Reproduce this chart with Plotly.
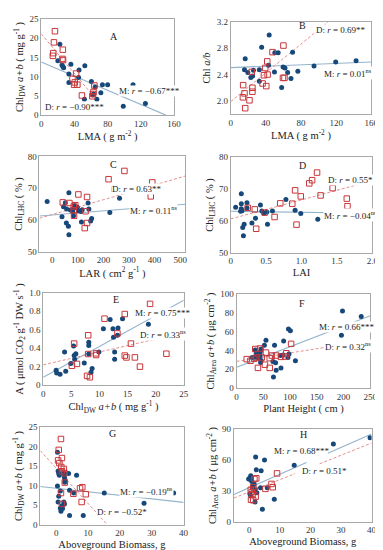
import plotly.graph_objects as go

W, H = 383, 550
FONT = "Liberation Serif"
BLUE = "#17487a"
RED = "#c8363a"
BLUE_LINE = "#93b4cd"
RED_LINE = "#e58f8f"
FRAME = "#a8a8a8"

# ---------------- Panel A ----------------
a_m_x = [22.4, 20, 26, 25, 35.7, 52.5, 45.5, 33.3, 45, 33.3, 60.4, 65, 73.7, 80, 110.6, 71.8, 67, 52, 98.8, 125.5, 63, 27, 62]
a_m_y = [18.4, 14.1, 12.6, 13.0, 13.2, 12.8, 11.7, 10.7, 9.8, 8.5, 8.7, 7.3, 7.9, 7.9, 7.9, 5.8, 4.1, 4.1, 2.3, 3.0, 5.5, 12.3, 5.2]
a_d_x = [16.5, 15.3, 14.5, 14, 26, 25.5, 26.3, 42, 37.6, 40.4, 39.6, 43.5, 49, 64, 63, 62.4, 61.6]
a_d_y = [21.8, 18.9, 16.1, 15.4, 17, 14.6, 14.3, 10.8, 9.4, 8.5, 7.9, 7.9, 5.1, 7.7, 6.0, 5.5, 4.9]
a_m_fit = ([0, 150], [13.8, 0])
a_d_fit = ([0, 63], [21.1, 4.9])

# ---------------- Panel B ----------------
b_m_x = [43.8, 35.2, 16.5, 50.2, 54, 70.4, 43, 59.6, 61.8, 94.8, 119.5, 142.7, 15.7, 32.6, 19.5, 49.8, 64.8, 76.4, 22.9, 25, 32.6, 58, 68.6, 25.9]
b_m_y = [3.0, 2.815, 2.64, 2.73, 2.73, 2.74, 2.54, 2.515, 2.5, 2.53, 2.59, 2.61, 2.475, 2.475, 2.43, 2.44, 2.43, 2.45, 2.355, 2.38, 2.3, 2.205, 2.34, 2.465]
b_d_x = [60, 47.6, 41.6, 39.3, 42, 37.8, 36.3, 40.5, 24, 24.7, 24.7, 14.2, 15.7, 13.9, 21.4, 16.5, 59.5, 61.2]
b_d_y = [2.84, 2.74, 2.6, 2.5, 2.4, 2.39, 2.265, 2.225, 2.44, 2.2, 2.14, 2.24, 2.115, 2.055, 2.01, 1.89, 2.35, 2.35]
b_m_fit = ([0, 160], [2.505, 2.59])
b_d_fit = ([0, 111], [1.99, 3.2])

# ---------------- Panel C ----------------
c_m_x = [-20, 65, 51, 44, 56, 38, 71, 80, 85, 98, 102, 112, 117, 140, 143, 114, 154, 150, 55, 63, 65, 83, 263, 225, 88]
c_m_y = [65.8, 68.5, 65.4, 64.1, 63.4, 61, 63.1, 62.6, 63.7, 64, 62.9, 62.6, 63.2, 65.3, 63.4, 59.3, 60.4, 59.6, 59, 58, 55.3, 61.3, 66.8, 62.3, 64.4]
c_d_x = [282, 220, 244, 391, 416, 102, 136, 41, 67, 84, 84, 130, 136, 127, 385, 85, 90]
c_d_y = [75.4, 72.8, 69.6, 71.8, 70.3, 68, 67.2, 65.5, 65.3, 64.2, 63, 62.7, 59, 57.4, 67.4, 61.3, 64.6]
c_m_fit = ([-50, 520], [61.2, 64.9])
c_d_fit = ([-50, 520], [60.5, 73.8])

# ---------------- Panel D ----------------
d_m_x = [0.15, 0.07, 0.15, 0.23, 0.15, 0.16, 0.14, 0.19, 0.17, 0.18, 0.3, 0.35, 0.42, 0.44, 0.51, 0.52, 0.59, 0.78, 0.91, 0.99, 1.23, 0.23, 0.47]
d_m_y = [68.5, 64.3, 65.4, 65.7, 63.8, 63.2, 63.0, 58.9, 57.9, 55.3, 59.3, 60.8, 65, 63.1, 62.8, 58.9, 63.1, 66.7, 63.3, 62.3, 60.5, 64, 62.4]
d_d_x = [1.22, 1.15, 1.11, 0.91, 0.99, 1.27, 1.44, 0.87, 0.7, 0.62, 0.93, 0.36, 0.34, 0.24, 0.48, 1.64, 1.65]
d_d_y = [75.2, 72.8, 71.8, 69.6, 67.7, 68, 70.3, 65.4, 65.5, 61.2, 58.8, 57.5, 63.6, 64.1, 62.6, 67, 64.6]
d_m_fit = ([0, 2], [63.0, 62.4])
d_d_fit = ([0, 2], [60.6, 72.6])

# ---------------- Panel E ----------------
e_m_x = [2.3, 2.4, 3.0, 4.0, 3.8, 4.9, 5.5, 5.6, 5.8, 5.4, 7.3, 8.1, 8.1, 8.1, 8.7, 8.5, 9.9, 10.7, 11.9, 12.4, 12.5, 12.7, 12.7, 13.3, 13.2, 14.1, 18.7]
e_m_y = [0.16, 0.13, 0.117, 0.15, 0.36, 0.234, 0.32, 0.28, 0.34, 0.425, 0.24, 0.465, 0.43, 0.337, 0.18, 0.14, 0.36, 0.61, 0.71, 0.61, 0.518, 0.36, 0.28, 0.62, 0.54, 0.72, 0.66]
e_d_x = [19, 14.5, 10.9, 8, 5.5, 13.2, 15.6, 14.5, 14.8, 16.3, 17.2, 21.9, 5.1, 6.0, 7.8, 8.3, 8.0, 9.4, 9.4]
e_d_y = [0.88, 0.77, 0.72, 0.54, 0.45, 0.56, 0.45, 0.32, 0.3, 0.3, 0.2, 0.34, 0.21, 0.23, 0.1, 0.085, 0.337, 0.326, 0.344]
e_m_fit = ([0, 25], [0.085, 0.92])
e_d_fit = ([0, 25], [0.22, 0.567])

# ---------------- Panel F ----------------
f_m_x = [198, 233, 196, 97, 100.6, 55, 88, 52, 71, 46, 35, 44.5, 37, 44, 34, 40, 43, 46, 45, 68, 73, 82, 87, 98, 96, 110, 83, 74, 69, 29]
f_m_y = [81.7, 75.9, 55.9, 62.7, 60.7, 50.7, 50, 45.5, 45.5, 41.4, 40.3, 38.6, 36.9, 34.5, 32.8, 32.4, 31, 29.3, 27.2, 28.3, 26.9, 34.5, 35.2, 36.2, 32.4, 29, 21.4, 19, 11.7, 32.4]
f_d_x = [102, 19, 26, 33, 35, 44, 40, 55, 53, 62, 66, 74, 62, 47, 83, 93, 91, 37]
f_d_y = [46.9, 30.7, 29, 31, 41.4, 42, 21.4, 37.6, 24.8, 21.4, 34.5, 34.5, 31.7, 32.4, 33.1, 36.9, 33.4, 32.4]
f_m_fit = ([0, 250], [22, 76.6])
f_d_fit = ([0, 250], [28.3, 50.7])

# ---------------- Panel G ----------------
g_m_x = [0.4, 0.6, 0.8, 1.0, 2.4, 3.9, 6.4, 2.6, 2.7, 2.7, 0.4, 1.3, 4.2, 5.5, 15.1, 36.9, 0.8, 0.6, 2.4, 2.6, 1.8, 1.3, 2.0, 1.5, 4.2, 8.5, 27.6]
g_m_y = [18.6, 13.8, 13.1, 12.7, 13.2, 13.1, 12.7, 12.2, 11.6, 10.9, 9.9, 8.6, 8.8, 8.1, 8.1, 8.1, 7.3, 5.8, 5.8, 5.3, 4.8, 4.2, 4.1, 3.4, 2.3, 2.3, 5.5]
g_d_x = [1.5, 0.8, 0.6, 1.8, 1.0, 1.6, 2.4, 1.8, 2.6, 2.7, 1.5, 7.5, 8.2, 9.3, 8.0, 5.4, 1.8]
g_d_y = [22, 19.2, 16.5, 17.1, 15.8, 14.8, 14.3, 13.7, 13.2, 10.8, 8.1, 9.3, 9.6, 7.8, 5.8, 7.9, 5.3]
g_m_fit = ([-5, 40], [9.8, 5.7])
g_d_fit = ([-5, 16], [19.0, 0])

# ---------------- Panel H ----------------
h_m_x = [39.5, 27.5, 14.7, 2.1, 5.0, 2.3, 3.9, 0.5, 0.2, 0.5, 0.85, -0.2, 1.6, 3.7, 5.9, 1.9, 2.5, 0.2, 0.5, 1.9, 8.2, 4.3, 1.1]
h_m_y = [81.8, 75.7, 55, 62.9, 60, 50.5, 49.5, 44.7, 42.5, 40.9, 39, 41.5, 36.7, 32.9, 32.9, 31, 28.1, 27.2, 24.9, 19.2, 21.7, 12.1, 34.2]
h_d_x = [9.1, 2.3, 1.7, 7.3, 7.7, 5.3, 1.3, 0.5, 0.85, 1.1, 2.1, 0.6, 1.3, 1.7]
h_d_y = [47, 42.2, 41.5, 36.7, 33.5, 31.9, 33.5, 31, 28.8, 26.8, 24.3, 21.4, 20.8, 31]
h_m_fit = ([-5, 40], [26.5, 85.5])
h_d_fit = ([-5, 40], [23.0, 76.6])
h_m_gap = [18.7, 25.7]
h_d_gap = [15.0, 23.0]

# tick values / labels
a_xt = [0, 40, 80, 120, 160]; a_yt = [0, 5, 10, 15, 20, 25]
b_xt = [0, 40, 80, 120, 160]; b_yt = [2.0, 2.4, 2.8, 3.2]; b_ytt = ["2.0", "2.4", "2.8", "3.2"]
c_xt = [0, 100, 200, 300, 400, 500]; c_yt = [50, 60, 70, 80]
d_xt = [0, 0.5, 1.0, 1.5, 2.0]; d_xtt = ["0", "0.5", "1.0", "1.5", "2.0"]; d_yt = [50, 60, 70, 80]
e_xt = [0, 5, 10, 15, 20, 25]; e_yt = [0, 0.2, 0.4, 0.6, 0.8, 1.0]; e_ytt = ["0", "0.2", "0.4", "0.6", "0.8", "1.0"]
f_xt = [0, 50, 100, 150, 200, 250]; f_yt = [0, 20, 40, 60, 80, 100]
g_xt = [0, 10, 20, 30, 40]; g_yt = [0, 5, 10, 15, 20, 25]
h_xt = [0, 10, 20, 30, 40]; h_yt = [0, 30, 60, 90]

chl_dw = "Chl<sub>DW</sub> <i>a+b</i> ( mg g<sup>-1</sup> )"
chl_area = "Chl<sub>Area</sub> <i>a+b</i> ( μg cm<sup>-2</sup> )"
chl_lhc = "Chl<sub>LHC</sub> ( % )"

panels = [
    dict(mx=a_m_x, my=a_m_y, dx=a_d_x, dy=a_d_y, mfit=a_m_fit, dfit=a_d_fit,
         xr=[0, 160], yr=[0, 25], xt=a_xt, yt=a_yt, dom=(32, 168, 6, 104),
         xtitle="LMA ( g m<sup>-2</sup> )", ytitle=chl_dw,
         ann=[("A", 88, 20.3, False), ("M: <i>r</i> = −0.67***", 130, 6.2, True),
              ("D: <i>r</i> = −0.90***", 40, 2.0, True)]),
    dict(mx=b_m_x, my=b_m_y, dx=b_d_x, dy=b_d_y, mfit=b_m_fit, dfit=b_d_fit,
         xr=[0, 160], yr=[1.8, 3.2], xt=b_xt, yt=b_yt, ytt=b_ytt, dom=(226, 370, 9, 103),
         xtitle="LMA ( g m<sup>-2</sup> )", ytitle="Chl <i>a/b</i>",
         ann=[("B", 82, 3.14, False), ("D: <i>r</i> = 0.69**", 126, 3.07, True),
              ("M: <i>r</i> = 0.01<sup>ns</sup>", 134, 2.42, True)]),
    dict(mx=c_m_x, my=c_m_y, dx=c_d_x, dy=c_d_y, mfit=c_m_fit, dfit=c_d_fit,
         xr=[-50, 520], yr=[50, 80], xt=c_xt, yt=c_yt, dom=(30.2, 179.5, 146, 243),
         xtitle="LAR ( cm<sup>2</sup> g<sup>-1</sup> )", ytitle=chl_lhc,
         ann=[("C", 240, 77.5, False), ("D: <i>r</i> = 0.63**", 330, 69.7, True),
              ("M: <i>r</i> = 0.11<sup>ns</sup>", 395, 63.2, True)]),
    dict(mx=d_m_x, my=d_m_y, dx=d_d_x, dy=d_d_y, mfit=d_m_fit, dfit=d_d_fit,
         xr=[0, 2], yr=[50, 80], xt=d_xt, xtt=d_xtt, yt=d_yt, dom=(226, 371, 147, 244),
         xtitle="LAI", ytitle=chl_lhc,
         ann=[("D", 1.01, 77.4, False), ("D: <i>r</i> = 0.55*", 1.69, 73, True),
              ("M: <i>r</i> = −0.04<sup>ns</sup>", 1.69, 61.9, True)]),
    dict(mx=e_m_x, my=e_m_y, dx=e_d_x, dy=e_d_y, mfit=e_m_fit, dfit=e_d_fit,
         xr=[0, 25], yr=[0, 1], xt=e_xt, yt=e_yt, ytt=e_ytt, dom=(34, 178, 285, 379),
         xtitle=chl_dw, ytitle="A ( μmol CO<sub>2</sub> g<sup>-1</sup> DW s<sup>-1</sup> )",
         ann=[("E", 12.9, 0.93, False), ("M: <i>r</i> = 0.75***", 21.3, 0.78, True),
              ("D: <i>r</i> = 0.33<sup>ns</sup>", 21.3, 0.557, True)]),
    dict(mx=f_m_x, my=f_m_y, dx=f_d_x, dy=f_d_y, mfit=f_m_fit, dfit=f_d_fit,
         xr=[0, 250], yr=[0, 100], xt=f_xt, yt=f_yt, dom=(232, 369, 286, 382),
         xtitle="Plant Height ( cm )", ytitle=chl_area,
         ann=[("F", 123, 90, False), ("M: <i>r</i> = 0.66***", 206, 65, True),
              ("D: <i>r</i> = 0.32<sup>ns</sup>", 208, 44.8, True)]),
    dict(mx=g_m_x, my=g_m_y, dx=g_d_x, dy=g_d_y, mfit=g_m_fit, dfit=g_d_fit,
         xr=[-5, 40], yr=[0, 25], xt=g_xt, yt=g_yt, dom=(31, 177.7, 422, 521),
         xtitle="Aboveground Biomass, g", ytitle=chl_dw,
         ann=[("G", 17.7, 23.3, False), ("M: <i>r</i> = −0.19<sup>ns</sup>", 28.4, 8.6, True),
              ("D: <i>r</i> = −0.52*", 20.8, 3.3, True)]),
    dict(mx=h_m_x, my=h_m_y, dx=h_d_x, dy=h_d_y, mfit=h_m_fit, dfit=h_d_fit,
         mgap=h_m_gap, dgap=h_d_gap,
         xr=[-5, 40], yr=[0, 90], xt=h_xt, yt=h_yt, dom=(229.3, 370.3, 424, 518),
         xtitle="Aboveground Biomass, g", ytitle=chl_area,
         ann=[("H", 17.7, 84.6, False), ("M: <i>r</i> = 0.68***", 17.2, 68.6, False),
              ("D: <i>r</i> = 0.51*", 24.6, 49.4, False)]),
]


def fit_xy(fit, gap=None):
    (x0, x1), (y0, y1) = fit
    f = lambda x: y0 + (y1 - y0) * (x - x0) / (x1 - x0)
    xs = [x0, gap[0], None, gap[1], x1] if gap else [x0, x1]
    ys = [None if x is None else f(x) for x in xs]
    return xs, ys


fig = go.Figure()
layout = dict(width=W, height=H, margin=dict(l=0, r=0, t=0, b=0),
              paper_bgcolor="white", plot_bgcolor="white", showlegend=False,
              font=dict(family=FONT, color="#222"), annotations=[])

for i, p in enumerate(panels, start=1):
    sx = "" if i == 1 else str(i)
    xa, ya = "x" + sx, "y" + sx
    l, r, t, b = p["dom"]
    mx, my = fit_xy(p["mfit"], p.get("mgap"))
    dx, dy = fit_xy(p["dfit"], p.get("dgap"))
    fig.add_trace(go.Scatter(x=mx, y=my, mode="lines", xaxis=xa, yaxis=ya,
                             line=dict(color=BLUE_LINE, width=1.1), hoverinfo="skip"))
    fig.add_trace(go.Scatter(x=dx, y=dy, mode="lines", xaxis=xa, yaxis=ya,
                             line=dict(color=RED_LINE, width=1, dash="3px,2px"), hoverinfo="skip"))
    fig.add_trace(go.Scatter(x=p["mx"], y=p["my"], mode="markers", xaxis=xa, yaxis=ya,
                             marker=dict(symbol="circle", size=5, color=BLUE,
                                         line=dict(width=0))))
    fig.add_trace(go.Scatter(x=p["dx"], y=p["dy"], mode="markers", xaxis=xa, yaxis=ya,
                             marker=dict(symbol="square-open", size=5.5, color=RED,
                                         line=dict(width=1, color=RED))))
    common = dict(showline=True, mirror=True, linecolor=FRAME, linewidth=1,
                  showgrid=False, zeroline=False, ticks="",
                  tickfont=dict(family=FONT, size=9, color="#333"))
    xax = dict(common, domain=[l / W, r / W], anchor=ya, range=p["xr"],
               tickmode="array", tickvals=p["xt"],
               ticktext=p.get("xtt", [str(v) for v in p["xt"]]),
               title=dict(text=p["xtitle"], standoff=3,
                          font=dict(family=FONT, size=10.5, color="#222")))
    yax = dict(common, domain=[1 - b / H, 1 - t / H], anchor=xa, range=p["yr"],
               tickmode="array", tickvals=p["yt"],
               ticktext=p.get("ytt", [str(v) for v in p["yt"]]),
               title=dict(text=p["ytitle"], standoff=3,
                          font=dict(family=FONT, size=10.5, color="#222")))
    layout["xaxis" + sx] = xax
    layout["yaxis" + sx] = yax
    for text, ax_x, ax_y, bg in p["ann"]:
        layout["annotations"].append(dict(
            text=text, x=ax_x, y=ax_y, xref=xa, yref=ya, showarrow=False,
            font=dict(family=FONT, size=10 if len(text) == 1 else 9, color="#222"),
            bgcolor="white" if bg else "rgba(0,0,0,0)", borderpad=0))

fig.update_layout(**layout)
fig.write_html("out.html")
